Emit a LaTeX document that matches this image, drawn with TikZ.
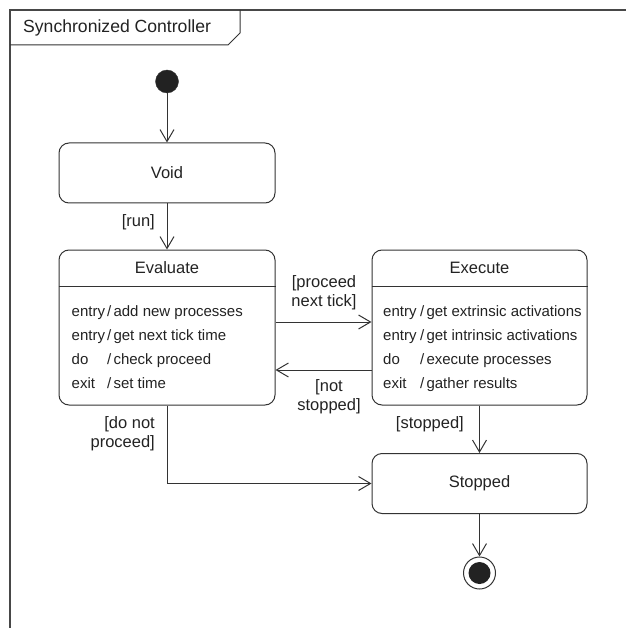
\documentclass[tikz,border=0pt]{standalone}
\usepackage{fontspec}
\setmainfont{Liberation Sans}
\usetikzlibrary{arrows.meta}
\definecolor{ink}{HTML}{333333}
\definecolor{txt}{HTML}{222222}
\newcommand{\actsep}{/\kern2.2pt}
\begin{document}
\begin{tikzpicture}[x=1pt,y=-1pt,
  font=\fontsize{16.5}{19}\selectfont, text=txt,
  line/.style={draw=ink, line width=1pt},
  arr/.style={line, -{Straight Barb[length=12pt,width=14pt,line width=1pt]}},
  statebox/.style={line, rounded corners=10pt, minimum width=216pt, inner sep=0pt},
  act/.style={anchor=base west, inner sep=0pt, font=\fontsize{15}{18}\selectfont},
  guard/.style={align=center, inner sep=0pt}
]
\useasboundingbox (0,0) rectangle (626,628);

% diagram frame and its name tab
\draw[draw=ink!90, line width=1.2pt] (10,628) -- (10,10) -- (626,10);
\draw[line] (10,45) -- (228,45) -- (240,33) -- (240,10);
\node[anchor=west, inner sep=0pt, font=\fontsize{17.6}{20}\selectfont] (title) at (23,28) {Synchronized Controller};

% states
\node[circle, fill=txt, draw=ink, minimum size=23pt, inner sep=0pt] (init) at (167,81.5) {};
\node[statebox, minimum height=60pt] (void) at (167,173) {Void};
\node[statebox, minimum height=155pt] (eval) at (167,327.5) {};
\node[statebox, minimum height=155pt, minimum width=215pt] (exec) at (479.5,327.5) {};
\node[statebox, minimum height=60pt, minimum width=215pt] (stop) at (479.5,483.5) {Stopped};
\node[circle, draw=ink, line width=1pt, fill=white, minimum size=32pt, inner sep=0pt] (final) at (479.5,573) {};
\node[circle, fill=txt, minimum size=22pt, inner sep=0pt] (finaldot) at (final) {};

% Evaluate compartments
\draw[line] (eval.west |- 0,286) -- (eval.east |- 0,286);
\node (evalname) at (167,268) {Evaluate};
\node[act] (ev1) at (71.5,316) {entry};
\node[act] (ev1b) at (107,316) {\actsep add new processes};
\node[act] (ev2) at (71.5,340) {entry};
\node[act] (ev2b) at (107,340) {\actsep get next tick time};
\node[act] (ev3) at (71.5,364) {do};
\node[act] (ev3b) at (107,364) {\actsep check proceed};
\node[act] (ev4) at (71.5,388) {exit};
\node[act] (ev4b) at (107,388) {\actsep set time};

% Execute compartments
\draw[line] (exec.west |- 0,286) -- (exec.east |- 0,286);
\node (execname) at (479.5,268) {Execute};
\node[act] (ex1) at (383,316) {entry};
\node[act] (ex1b) at (420,316) {\actsep get extrinsic activations};
\node[act] (ex2) at (383,340) {entry};
\node[act] (ex2b) at (420,340) {\actsep get intrinsic activations};
\node[act] (ex3) at (383,364) {do};
\node[act] (ex3b) at (420,364) {\actsep execute processes};
\node[act] (ex4) at (383,388) {exit};
\node[act] (ex4b) at (420,388) {\actsep gather results};

% transitions
\draw[arr] (init) -- (void);
\draw[arr] (void) -- (eval);
\draw[arr] ([yshift=5.5pt]eval.east) -- ([yshift=5.5pt]exec.west);
\draw[arr] ([yshift=-42.5pt]exec.west) -- ([yshift=-42.5pt]eval.east);
\draw[arr] (exec) -- (stop);
\draw[arr] (eval.south) |- (stop.west);
\draw[arr] (stop) -- (final);

% guards
\node[anchor=east, inner sep=0pt] (grun) at (155,222) {[run]};
\node[guard] (gproceed) at (324,293) {[proceed\\next tick]};
\node[guard] (gnot) at (329,397) {[not\\stopped]};
\node[anchor=east, inner sep=0pt] (gstopped) at (464,424) {[stopped]};
\node[guard, align=right, anchor=east] (gdonot) at (155,433.5) {[do not\\proceed]};
\end{tikzpicture}
\end{document}
